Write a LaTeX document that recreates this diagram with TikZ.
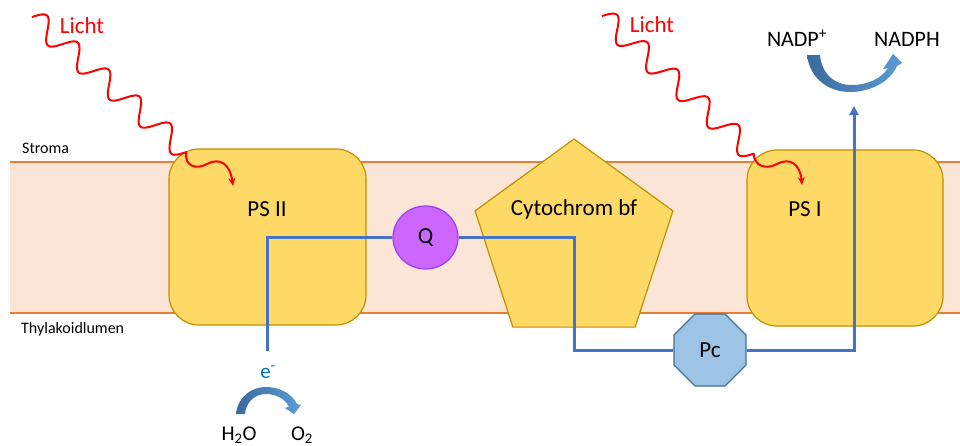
\documentclass[tikz,border=0pt]{standalone}
\usepackage{fontspec}
\setmainfont{Carlito}
\usetikzlibrary{shapes.geometric,arrows.meta,calc}
\definecolor{membfill}{HTML}{FBE5D6}
\definecolor{membline}{HTML}{ED7D31}
\definecolor{psfill}{HTML}{FFD966}
\definecolor{psline}{HTML}{BF9000}
\definecolor{qfill}{HTML}{CC66FF}
\definecolor{qline}{HTML}{9A3DF5}
\definecolor{pcfill}{HTML}{9DC3E6}
\definecolor{pcline}{HTML}{41719C}
\definecolor{eline}{HTML}{4472C4}
\definecolor{etext}{HTML}{0070C0}
\definecolor{arrdark}{HTML}{3A6A9C}
\definecolor{arrlight}{HTML}{5B9BD5}
\begin{document}
\begin{tikzpicture}[x=1pt,y=-1pt,
  lbl/.style={font=\fontsize{23}{27}\selectfont, anchor=base, inner sep=0},
  sidelbl/.style={font=\fontsize{16}{19}\selectfont, anchor=base west, inner sep=0},
  chemlbl/.style={font=\fontsize{21}{25}\selectfont, anchor=base, inner sep=0},
  psbox/.style={draw=psline, fill=psfill, line width=1.2pt, rounded corners=30pt,
    minimum width=197pt, minimum height=176pt, inner sep=0},
  cytshape/.style={regular polygon, regular polygon sides=5, minimum size=208pt,
    draw=psline, fill=psfill, line width=1.2pt, inner sep=0},
  qnode/.style={ellipse, draw=qline, fill=qfill, line width=1.2pt,
    minimum width=65pt, minimum height=63pt, inner sep=0, font=\fontsize{23}{27}\selectfont},
  pcnode/.style={regular polygon, regular polygon sides=8, minimum size=78pt,
    draw=pcline, fill=pcfill, line width=1.2pt, inner sep=0, font=\fontsize{23}{27}\selectfont},
  eflow/.style={draw=eline, line width=3pt},
  wave/.style={draw=red, line width=2pt, line join=round,
    -{Stealth[length=8pt,width=7pt]}},
  blockarrow/.style={left color=arrdark, right color=arrlight, draw=none}
]
\useasboundingbox (0,0) rectangle (960,445);
% membrane
\fill[membfill] (10,162) rectangle (960,313);
\draw[membline, line width=2pt] (10,162) -- (960,162);
\draw[membline, line width=2pt] (10,313) -- (960,313);
\node[sidelbl] (stroma) at (22,153) {Stroma};
\node[sidelbl] (lumen) at (21,333) {Thylakoidlumen};
% complexes
\node[psbox] (ps2) at (267.5,237) {};
\node[psbox, minimum width=196pt] (ps1) at (845,238) {};
\node[cytshape] (cyt) at (574,243) {};
\node[lbl] (ps2l) at (267,216) {PS II};
\node[lbl] (ps1l) at (805,216) {PS I};
\node[lbl] (cytl) at (574,215) {Cytochrom bf};
\node[qnode] (Q) at (425.5,237.5) {Q};
\node[pcnode] (Pc) at (710,350) {Pc};
% electron flow
\coordinate (estart) at (267,351);
\coordinate (nadpend) at (854,106);
\draw[eflow] (estart) |- (Q.west);
\draw[eflow] (Q.east) -| (cyt.center |- Pc.west) -- (Pc.west);
\draw[eflow, -{Triangle[width=9pt,length=9pt]}] (Pc.east) -| (nadpend);
% labels
\node[chemlbl, text=etext] (e) at (268,378) {e\textsuperscript{-}};
\node[chemlbl] (h2o) at (239,440) {H\textsubscript{2}O};
\node[chemlbl] (o2) at (302,440) {O\textsubscript{2}};
\node[lbl, font=\fontsize{22}{26}\selectfont] (nadp) at (797,46) {NADP\textsuperscript{+}};
\node[lbl, font=\fontsize{22}{26}\selectfont] (nadph) at (907,46) {NADPH};
\node[lbl, text=red] (licht1) at (82,33) {Licht};
\node[lbl, text=red] (licht2) at (652,32) {Licht};
% curved block arrows
\shade[blockarrow] (236,414) .. controls (238,396) and (252,387) .. (266,387)
  .. controls (280,387) and (292,394) .. (297,404) -- (301,405) -- (294,414)
  -- (285,408) -- (289,406.5) .. controls (285,399) and (276,394) .. (266,394)
  .. controls (255,394) and (246,402) .. (245,414) -- cycle;
\shade[blockarrow] (807,55) .. controls (810,80) and (830,92) .. (850,92)
  .. controls (870,92) and (890,82) .. (897,66) -- (902,63) -- (893,54)
  -- (883,69) -- (888,68) .. controls (882,78) and (868,85) .. (852,85)
  .. controls (835,85) and (822,75) .. (820,55) -- cycle;
% light
\coordinate (l1a) at (32,17);
\coordinate (l1c) at (233,186);
\draw[wave] (l1a) -- plot[smooth, samples=121, domain=0:205, variable=\t]
  ({32+0.752*\t+7.25*sin(8.7805*\t)}, {17+0.659*\t-8.27*sin(8.7805*\t)})
  .. controls (184,166) and (196,170) .. (207,164)
  .. controls (220,157) and (230,164) .. (l1c);
\coordinate (l2a) at (602,16);
\coordinate (l2c) at (802,185);
\draw[wave] (l2a) -- plot[smooth, samples=121, domain=0:205, variable=\t]
  ({602+0.740*\t+7.39*sin(8.7805*\t)}, {16+0.672*\t-8.14*sin(8.7805*\t)})
  .. controls (754,166) and (766,170) .. (777,164)
  .. controls (790,157) and (800,164) .. (l2c);
\end{tikzpicture}
\end{document}
